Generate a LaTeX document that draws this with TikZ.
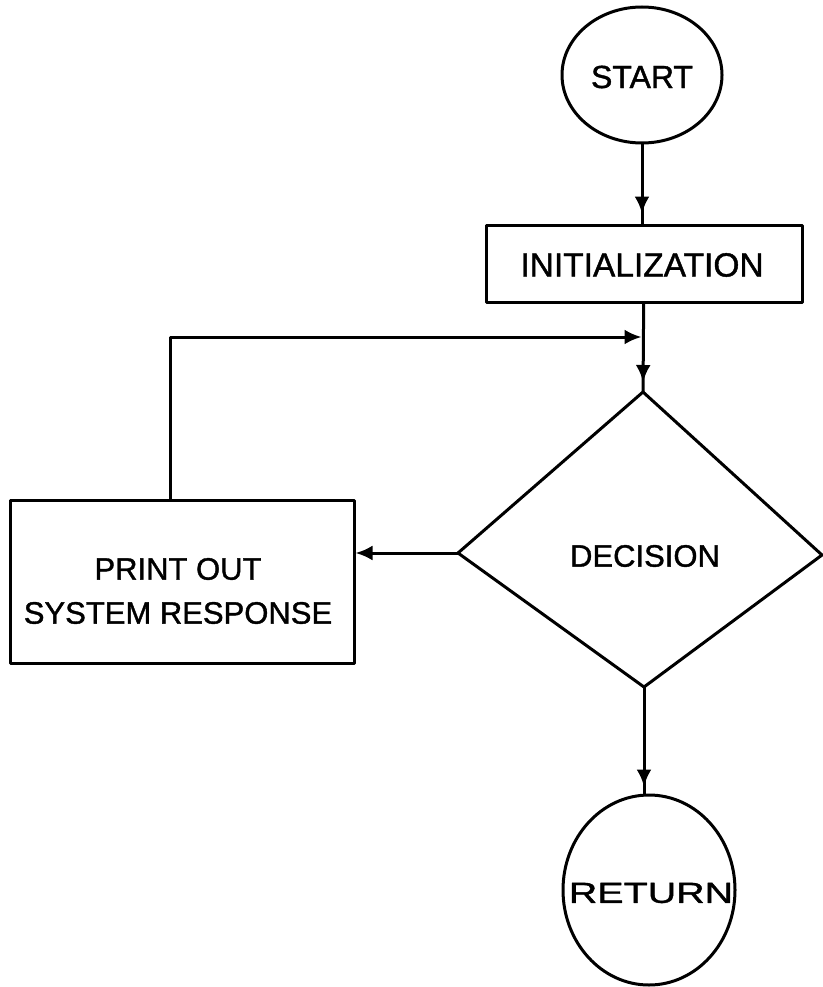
\documentclass[tikz,border=0pt]{standalone}
\usepackage{fontspec}
\setmainfont[FakeBold=1.2]{Liberation Sans}
\usepackage{graphicx}
\usetikzlibrary{shapes.geometric,arrows.meta,decorations.markings}

\begin{document}
\begin{tikzpicture}[x=1pt,y=-1pt,
  line width=3pt,
  line join=round,
  every node/.style={inner sep=0pt},
  term/.style={draw, ellipse, line width=3pt},
  procbox/.style={draw, rectangle, line width=3pt},
  lbl/.style={font=\fontsize{31}{44}\selectfont, align=center},
  tip/.style={-{Latex[length=17pt,width=15pt]}},
  midtip/.style={postaction={decorate},
    decoration={markings,
      mark=at position #1 with {\arrow{Latex[length=17pt,width=15pt]}}}}
]
% page frame
\fill[white] (0,0) rectangle (822,987);
\useasboundingbox (0,0) rectangle (822,987);

% terminals and process boxes
\node[term, minimum width=160pt, minimum height=136pt] (start) at (642,75) {};
\node[lbl, font=\fontsize{32}{38}\selectfont] (starttxt) at (642,77) {START};

\node[procbox, minimum width=316pt, minimum height=77pt] (init) at (644,263.5) {};
\node[lbl, font=\fontsize{33.5}{38}\selectfont] (inittxt) at (642,265) {INITIALIZATION};

\node[procbox, minimum width=344pt, minimum height=163pt] (print) at (182,581.5) {};
\node[lbl] (printtxt) at (178,591) {PRINT OUT\\SYSTEM RESPONSE};

\node[term, minimum width=172pt, minimum height=190pt] (ret) at (649,890) {};
\node[lbl, font=\fontsize{29}{34}\selectfont] (rettxt) at (651,893) {\scalebox{1.36}[1]{RETURN}};

% decision diamond
\coordinate (dT) at (643,392);
\coordinate (dR) at (822,555);
\coordinate (dB) at (644,687);
\coordinate (dL) at (458,553);
\draw (dT) -- (dR) -- (dB) -- (dL) -- cycle;
\node[lbl] (dectxt) at (645,556) {DECISION};

% loop-back path corner and join point
\coordinate (fb) at (170,337);
\coordinate (join) at (643,337);

% connectors
\draw[midtip=-10pt] (start) -- (start |- init.north);
\draw[midtip=-10pt] (init) -- (dT);
\draw[tip, shorten >=1.5pt] (fb |- print.north) -- (fb) -- (join);
\draw[tip] (dL) -- (dL -| print.east);
\draw[midtip=-7pt] (dB) -- (dB |- ret.north);
\end{tikzpicture}
\end{document}
